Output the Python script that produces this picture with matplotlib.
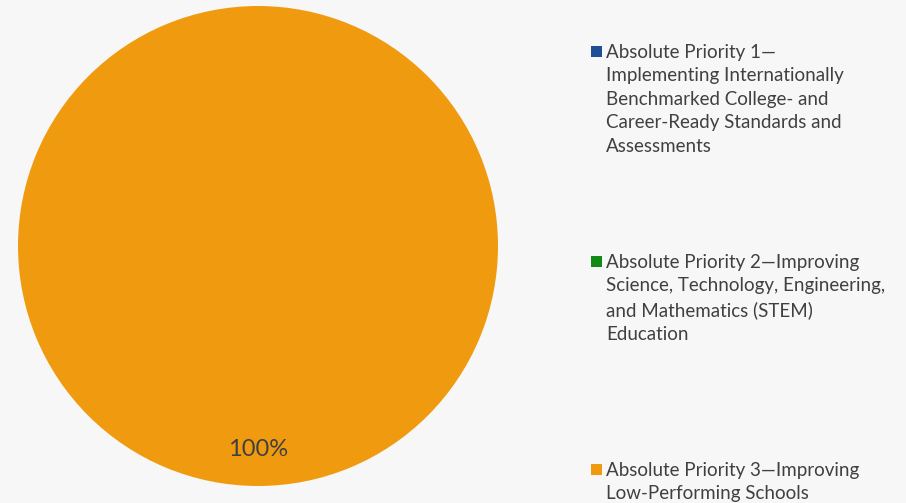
import matplotlib
matplotlib.use("Agg")
import matplotlib.pyplot as plt
from matplotlib.patches import Rectangle

# data
labels = [
    "Absolute Priority 1\u2014\nImplementing Internationally\nBenchmarked College- and\nCareer-Ready Standards and\nAssessments",
    "Absolute Priority 2\u2014Improving\nScience, Technology, Engineering,\nand Mathematics (STEM)\nEducation",
    "Absolute Priority 3\u2014Improving\nLow-Performing Schools",
]
values = [0, 0, 100]
colors = ["#1f4e96", "#138a13", "#f09b0f"]

W, H = 906, 503
bg = "#f7f7f7"
fig = plt.figure(figsize=(W / 100, H / 100), dpi=100, facecolor=bg)
plt.rcParams['font.family'] = ['Lato', 'DejaVu Sans']

ax = fig.add_axes([18 / W, (H - 486) / H, 480 / W, 480 / H])
ax.set_facecolor(bg)


def pct(p):
    return "%d%%" % round(p) if p > 0 else ""


wedges, texts, autotexts = ax.pie(values, colors=colors, startangle=90, counterclock=False,
                                  autopct=pct, pctdistance=0.85,
                                  textprops={"fontsize": 17, "color": "#404040"})
ax.set_xlim(-1, 1)
ax.set_ylim(-1, 1)
ax.set_aspect("equal")
ax.axis("off")

# legend drawn by hand so each entry sits where the original put it
tops = [52, 262, 470]
for lab, col, y in zip(labels, colors, tops):
    fig.patches.append(Rectangle((591 / W, (H - y - 5) / H), 11 / W, 11 / H,
                                 transform=fig.transFigure, facecolor=col, edgecolor="none"))
    fig.text(606 / W, (H - y + 8) / H, lab, fontsize=13.5, color="#404040",
             va="top", ha="left", linespacing=1.46)

fig.savefig("out.png", dpi=100, facecolor=bg)
